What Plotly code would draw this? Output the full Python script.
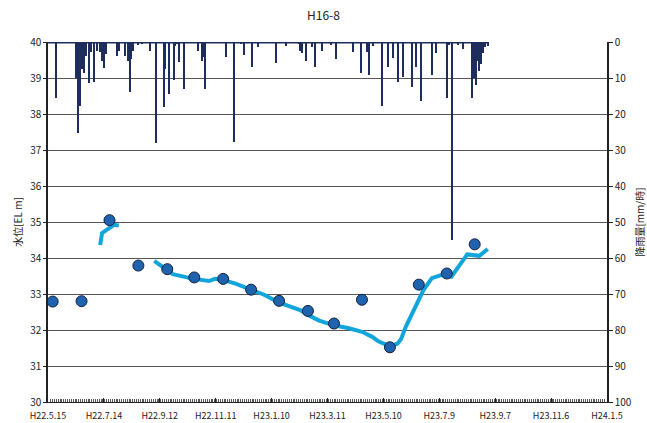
import plotly.graph_objects as go

# Observation well H16-8: monthly manual readings, logger record, hourly rainfall

tick_dates = ["2010-05-15", "2010-07-14", "2010-09-12", "2010-11-11", "2011-01-10",
              "2011-03-11", "2011-05-10", "2011-07-09", "2011-09-07", "2011-11-06",
              "2012-01-05"]
tick_labels = ["H22.5.15", "H22.7.14", "H22.9.12", "H22.11.11", "H23.1.10",
               "H23.3.11", "H23.5.10", "H23.7.9", "H23.9.7", "H23.11.6", "H24.1.5"]

# Manual water level readings [EL m]
manual_dates = ["2010-05-20", "2010-06-20", "2010-07-20", "2010-08-20", "2010-09-20",
                "2010-10-19", "2010-11-19", "2010-12-19", "2011-01-18", "2011-02-18",
                "2011-03-18", "2011-04-17", "2011-05-17", "2011-06-17", "2011-07-17",
                "2011-08-16"]
manual_level = [32.79, 32.80, 35.05, 33.79, 33.69, 33.46, 33.42, 33.12, 32.81, 32.53,
                32.18, 32.84, 31.52, 33.26, 33.57, 34.38]

# Logger record, first segment
logger1_dates = ["2010-07-10", "2010-07-11", "2010-07-12", "2010-07-17", "2010-07-22",
                 "2010-07-25", "2010-07-30"]
logger1_level = [34.36, 34.55, 34.69, 34.78, 34.87, 34.92, 34.90]

# Logger record, second segment
logger2_dates = ["2010-09-06", "2010-09-19", "2010-09-26", "2010-10-18", "2010-11-04",
                 "2010-11-10", "2010-11-18", "2010-12-03", "2010-12-18", "2011-01-02",
                 "2011-01-18", "2011-02-09", "2011-02-18", "2011-03-02", "2011-03-18",
                 "2011-04-03", "2011-04-17", "2011-04-28", "2011-05-05", "2011-05-17",
                 "2011-05-25", "2011-05-29", "2011-06-03", "2011-06-14", "2011-06-22",
                 "2011-07-01", "2011-07-12", "2011-07-22", "2011-08-02", "2011-08-08",
                 "2011-08-21", "2011-08-30"]
logger2_level = [33.92, 33.70, 33.55, 33.42, 33.36, 33.42, 33.40, 33.28, 33.12, 32.98,
                 32.76, 32.56, 32.42, 32.26, 32.13, 32.05, 31.95, 31.81, 31.68, 31.55,
                 31.62, 31.75, 32.09, 32.65, 33.11, 33.44, 33.53, 33.48, 33.90, 34.10,
                 34.06, 34.25]

# Hourly rainfall [mm/h]
rain_dates = ["2010-05-24", "2010-06-14", "2010-06-16", "2010-06-18", "2010-06-20",
              "2010-06-23", "2010-06-25", "2010-06-28", "2010-06-30", "2010-07-03",
              "2010-07-07", "2010-07-10", "2010-07-12", "2010-07-14", "2010-07-16",
              "2010-07-28", "2010-07-30", "2010-08-06", "2010-08-09", "2010-08-11",
              "2010-08-12", "2010-08-14", "2010-08-20", "2010-08-24", "2010-09-01",
              "2010-09-02", "2010-09-08", "2010-09-16", "2010-09-18", "2010-09-22",
              "2010-09-27", "2010-09-28", "2010-09-30", "2010-10-03", "2010-10-08",
              "2010-10-23", "2010-10-27", "2010-10-28", "2010-10-31", "2010-11-22",
              "2010-12-01", "2010-12-08", "2010-12-11", "2010-12-20", "2010-12-26",
              "2011-01-15", "2011-01-26", "2011-02-08", "2011-02-09", "2011-02-12",
              "2011-02-16", "2011-02-22", "2011-02-26", "2011-03-05", "2011-03-15",
              "2011-03-20", "2011-04-07", "2011-04-16", "2011-04-22", "2011-04-25",
              "2011-04-29", "2011-05-09", "2011-05-15", "2011-05-20", "2011-05-26",
              "2011-05-31", "2011-06-10", "2011-06-14", "2011-06-19", "2011-07-01",
              "2011-07-05", "2011-07-17", "2011-07-19", "2011-07-23", "2011-07-29",
              "2011-08-03", "2011-08-13", "2011-08-15", "2011-08-17", "2011-08-19",
              "2011-08-21", "2011-08-23", "2011-08-25", "2011-08-27", "2011-08-30"]
rain_mm = [15.6, 9.9, 25.2, 17.8, 7.5,
           8.5, 3.9, 11.5, 2.8, 11.2,
           2.5, 2.8, 5.3, 7.1, 3.4,
           3.9, 2.5, 3.9, 5.3, 14.0,
           4.8, 2.5, 0.9, 0.6, 2.0,
           2.5, 28.1, 18.0, 7.5, 14.5,
           10.6, 1.1, 0.6, 5.6, 13.0,
           2.5, 5.3, 4.3, 13.0, 4.3,
           27.7, 0.6, 3.5, 7.0, 1.5,
           5.7, 1.1, 0.6, 2.5, 3.1,
           5.3, 1.5, 7.0, 2.5, 0.8,
           4.6, 2.7, 8.6, 2.8, 9.2,
           1.2, 17.7, 6.9, 4.5, 11.2,
           9.6, 12.6, 6.9, 16.3, 9.2,
           3.1, 15.6, 0.8, 55.0, 0.8,
           2.0, 15.6, 10.0, 12.0, 5.2,
           8.0, 6.0, 3.0, 1.5, 1.0]

# Period covered by the rain gauge record (zero line)
rain_period = ["2010-05-15", "2011-08-30"]
rain_zero = [0, 0]

NAVY = "#1f2d5c"
CYAN = "#12a5dc"
DOT = "#1f62ad"
FONT = "Noto Sans CJK JP"
DAY_MS = 86400000

fig = go.Figure()

fig.add_trace(go.Bar(
    x=rain_dates, y=rain_mm, yaxis="y2", base=0,
    width=1.1 * DAY_MS, marker=dict(color=NAVY, line=dict(width=0)),
    showlegend=False, hoverinfo="x+y"))

fig.add_trace(go.Scatter(
    x=rain_period, y=rain_zero, yaxis="y2", mode="lines",
    line=dict(color=NAVY, width=3), showlegend=False, hoverinfo="skip"))

for dates, levels in ((logger1_dates, logger1_level), (logger2_dates, logger2_level)):
    fig.add_trace(go.Scatter(
        x=dates, y=levels, mode="lines",
        line=dict(color=CYAN, width=4), showlegend=False))

fig.add_trace(go.Scatter(
    x=manual_dates, y=manual_level, mode="markers",
    marker=dict(size=11, color=DOT, line=dict(color="#10203a", width=1)),
    showlegend=False))

fig.update_layout(
    width=647, height=423,
    margin=dict(l=48, r=40, t=42, b=21),
    paper_bgcolor="white", plot_bgcolor="white",
    font=dict(family=FONT, size=10, color="#222222"),
    title=dict(text="H16-8", x=0.5, xanchor="center", y=0.962, yanchor="middle",
               font=dict(family=FONT, size=12, color="#222222")),
    bargap=0,
    xaxis=dict(
        range=["2010-05-15", "2012-01-05"], automargin=False,
        tickmode="array", tickvals=tick_dates, ticktext=tick_labels,
        tickfont=dict(size=9), ticklabelstandoff=5,
        showgrid=False, zeroline=False,
        showline=True, linecolor="#222222", linewidth=1,
        ticks="inside", ticklen=4, tickcolor="#222222",
        minor=dict(dtick=2 * DAY_MS, ticks="inside", ticklen=3,
                   tickcolor="#555555", showgrid=False),
    ),
    yaxis=dict(
        range=[30, 40], dtick=1, tick0=30, automargin=False,
        title=dict(text="水位[EL m]", font=dict(size=10), standoff=6),
        showgrid=True, gridcolor="#555555", gridwidth=1,
        zeroline=False, showline=True, linecolor="#222222", linewidth=1.5,
        ticks="outside", ticklen=3, tickcolor="#222222",
    ),
    yaxis2=dict(
        overlaying="y", side="right", automargin=False,
        range=[100, 0], dtick=10, tick0=0,
        title=dict(text="降雨量[mm/時]", font=dict(size=10), standoff=6),
        showgrid=False, zeroline=False,
        showline=True, linecolor="#222222", linewidth=1.5,
        ticks="outside", ticklen=4, tickcolor="#222222",
    ),
)

fig.write_html("out.html")
